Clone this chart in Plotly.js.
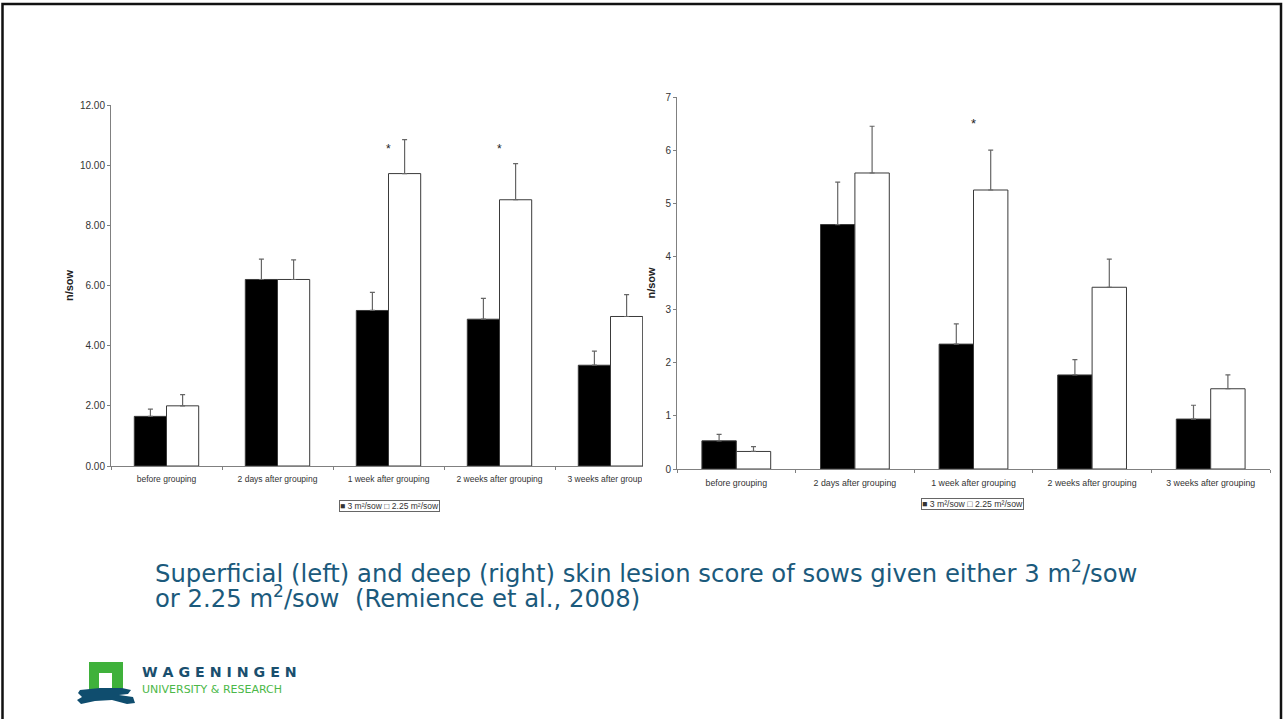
<!DOCTYPE html>
<html>
<head>
<meta charset="utf-8">
<script src="https://cdn.plot.ly/plotly-3.0.1.min.js"></script>
<style>html,body{margin:0;padding:0;background:#fff;}#chart{width:1284px;height:719px;}</style>
</head>
<body>
<div id="chart"></div>
<script>
// ---- data ----
const categories = ['before grouping','2 days after grouping','1 week after grouping','2 weeks after grouping','3 weeks after grouping'];
const seriesNames = ['3 m²/sow','2.25 m²/sow'];
// Superficial lesions (left)
const supLarge    = [1.65, 6.20, 5.17, 4.88, 3.35];
const supLargeErr = [0.24, 0.68, 0.60, 0.69, 0.47];
const supSmall    = [2.00, 6.20, 9.72, 8.85, 4.97];
const supSmallErr = [0.37, 0.65, 1.13, 1.20, 0.73];
// Deep lesions (right)
const deepLarge    = [0.53, 4.60, 2.35, 1.77, 0.94];
const deepLargeErr = [0.12, 0.80, 0.38, 0.29, 0.26];
const deepSmall    = [0.33, 5.57, 5.25, 3.42, 1.51];
const deepSmallErr = [0.09, 0.88, 0.75, 0.53, 0.26];
// significance markers
const supStarCats = ['1 week after grouping','2 weeks after grouping'];
const supStarY = [10.55, 10.55];
const deepStarCats = ['1 week after grouping'];
const deepStarY = [6.5];
const leftTicks = [0,2,4,6,8,10,12];
const rightTicks = [0,1,2,3,4,5,6,7];

// ---- helpers ----
const W = 1284, H = 719;
const px = v => v / W;
const py = v => 1 - v / H;
const zeros = n => new Array(n).fill(0);
const tickFont = {family:'Liberation Sans, Arial, sans-serif', size:10, color:'#333'};
const axisCol = '#808080';

function barTrace(y, err, fill, name, xa, ya) {
  return {
    type:'bar', x:categories, y:y, name:name, xaxis:xa, yaxis:ya,
    marker:{color:fill, line:{color:'#3a3a3a', width:1}},
    error_y:{type:'data', symmetric:false, array:err, arrayminus:zeros(err.length),
             color:'#666', thickness:1.2, width:2.5},
    showlegend:false, hoverinfo:'x+y'
  };
}

const data = [
  barTrace(supLarge, supLargeErr, '#000000', seriesNames[0], 'x', 'y'),
  barTrace(supSmall, supSmallErr, '#ffffff', seriesNames[1], 'x', 'y'),
  barTrace(deepLarge, deepLargeErr, '#000000', seriesNames[0], 'x2', 'y2'),
  barTrace(deepSmall, deepSmallErr, '#ffffff', seriesNames[1], 'x2', 'y2'),
  {type:'scatter', x:[], y:[], xaxis:'x3', yaxis:'y3', showlegend:false, hoverinfo:'skip'}
];

function yAxis(domain, range, ticks, fmt, standoff, xa) {
  return {
    domain:domain, range:range, anchor:xa, tickvals:ticks, tickformat:fmt,
    showgrid:false, zeroline:false, showline:true, linecolor:axisCol, linewidth:1,
    ticks:'outside', ticklen:3, tickcolor:axisCol, tickfont:tickFont, fixedrange:true,
    title:{text:'n/sow', standoff:standoff,
           font:{family:'Liberation Sans, Arial, sans-serif', size:11, color:'#222', weight:'bold'}}
  };
}
function xAxis(domain, range, ya, fsize, standoff) {
  return {
    domain:domain, range:range, anchor:ya, type:'category',
    showgrid:false, zeroline:false, showline:true, linecolor:axisCol, linewidth:1,
    ticks:'outside', tickson:'boundaries', ticklen:3, tickcolor:axisCol,
    tickfont:{family:'Liberation Sans, Arial, sans-serif', size:fsize, color:'#333'},
    ticklabelstandoff:standoff, tickangle:0, fixedrange:true
  };
}

// left plot: x 111..643 px (cut off), category width 111 px; y 105..466
const leftX0 = 111, leftCat = 111, leftX1 = 643;
// right plot: x 677..1270 px; y 97..469
const rightX0 = 677, rightX1 = 1270;

const annotations = [];
supStarCats.forEach((c,i)=>annotations.push({xref:'x', yref:'y', x:c, y:supStarY[i], text:'*', showarrow:false,
  font:{family:'Liberation Sans, Arial, sans-serif', size:12, color:'#222'}}));
deepStarCats.forEach((c,i)=>annotations.push({xref:'x2', yref:'y2', x:c, y:deepStarY[i], text:'*', showarrow:false,
  font:{family:'Liberation Sans, Arial, sans-serif', size:13, color:'#222'}}));

const legendText = '■ ' + seriesNames[0] + ' □ ' + seriesNames[1];
annotations.push({xref:'x3', yref:'y3', x:389, y:506, text:legendText, showarrow:false,
  font:{family:'Liberation Sans, Arial, sans-serif', size:8.5, color:'#333'},
  bordercolor:'#666', borderwidth:1, borderpad:0, bgcolor:'#fff'});
annotations.push({xref:'x3', yref:'y3', x:972, y:503.5, text:legendText, showarrow:false,
  font:{family:'Liberation Sans, Arial, sans-serif', size:8.7, color:'#333'},
  bordercolor:'#666', borderwidth:1, borderpad:0, bgcolor:'#fff'});

const capFont = {family:'DejaVu Sans, Verdana, sans-serif', size:24.3, color:'#1b5a7c'};
annotations.push({xref:'x3', yref:'y3', x:153, y:572, xanchor:'left', yanchor:'middle', showarrow:false,
  text:'Superficial (left) and deep (right) skin lesion score of sows given either 3 m<sup>2</sup>/sow', font:capFont});
annotations.push({xref:'x3', yref:'y3', x:153, y:597, xanchor:'left', yanchor:'middle', showarrow:false,
  text:'or 2.25 m<sup>2</sup>/sow \u00a0(Remience et al., 2008)', font:capFont});

// logo text
annotations.push({xref:'x3', yref:'y3', x:140, y:672, xanchor:'left', yanchor:'middle', showarrow:false,
  text:'W A G E N I N G E N', font:{family:'DejaVu Sans, sans-serif', size:14.2, color:'#1a4f6e', weight:'bold'}});
annotations.push({xref:'x3', yref:'y3', x:140, y:689, xanchor:'left', yanchor:'middle', showarrow:false,
  text:'UNIVERSITY & RESEARCH', font:{family:'DejaVu Sans, sans-serif', size:11, color:'#4cb848'}});

const shapes = [
  // slide frame
  {type:'rect', xref:'x3', yref:'y3', x0:2.5, x1:1281, y0:4, y1:740, line:{color:'#111', width:2.5}, layer:'above'},
  // cover the part of the left chart hidden under the right chart
  {type:'rect', xref:'x3', yref:'y3', x0:642, x1:661, y0:472, y1:490, fillcolor:'#fff', line:{width:0}, layer:'above'},
  // logo: green gate
  {type:'path', xref:'x3', yref:'y3', path:'M89,692 L89,662 L123,662 L123,692 L112,692 L112,673 L99,673 L99,692 Z',
   fillcolor:'#3fb13b', line:{width:0}, layer:'above'},
  // logo: blue wave
  {type:'path', xref:'x3', yref:'y3',
   path:'M80,690 L100,688 L122,688 L131,690 L128,694 L119,695 L133,697 L135,703 L127,704 L112,700 L95,701 L81,704 L77,700 L82,697 L78,693 Z',
   fillcolor:'#0f4d6e', line:{width:0}, layer:'above'}
];

const layout = {
  width:W, height:H, margin:{l:0, r:0, t:0, b:0},
  paper_bgcolor:'#fff', plot_bgcolor:'rgba(0,0,0,0)',
  barmode:'group', bargap:0.42, bargroupgap:0,
  showlegend:false,
  xaxis: xAxis([px(leftX0), px(leftX1)], [-0.5, -0.5 + (leftX1-leftX0)/leftCat], 'y', 8.5, 5),
  yaxis: yAxis([py(466), py(105)], [0,12], leftTicks, '.2f', 4, 'x'),
  xaxis2: xAxis([px(rightX0), px(rightX1)], [-0.5, 4.5], 'y2', 8.8, 5),
  yaxis2: yAxis([py(469), py(97)], [0,7], rightTicks, 'd', 7, 'x2'),
  xaxis3: {domain:[0,1], range:[0,W], visible:false, fixedrange:true, anchor:'y3'},
  yaxis3: {domain:[0,1], range:[H,0], visible:false, fixedrange:true, anchor:'x3'},
  annotations: annotations,
  shapes: shapes
};

Plotly.newPlot('chart', data, layout, {displayModeBar:false, staticPlot:true});
</script>
</body>
</html>
